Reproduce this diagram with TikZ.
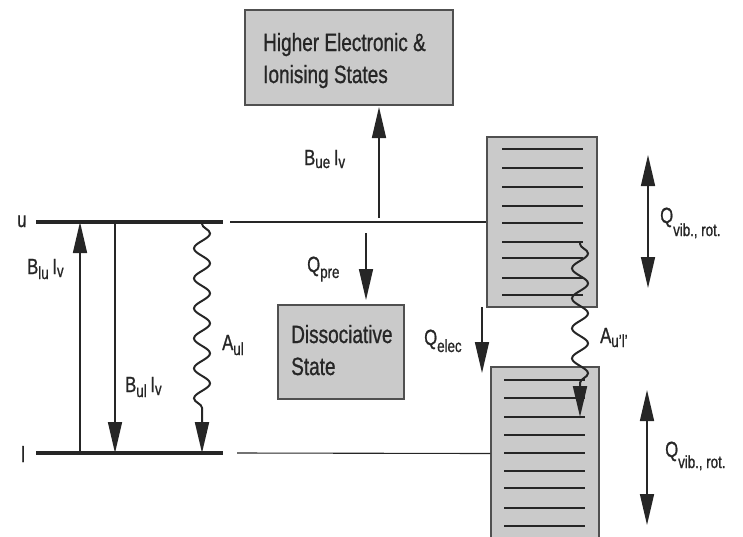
\documentclass[tikz,border=0pt]{standalone}
\usepackage{fontspec}
\setmainfont{Liberation Sans}[FakeStretch=0.76,FakeBold=0.9]
\usetikzlibrary{arrows.meta,decorations.pathmorphing}
\definecolor{ink}{HTML}{262626}
\definecolor{boxfill}{HTML}{CACACA}
\definecolor{boxline}{HTML}{505050}
\newcommand\labfont{\fontsize{22}{24}\selectfont}
\newcommand\subfont{\fontsize{17.5}{18}\selectfont}
\newcommand\boxfont{\fontsize{25}{32}\selectfont}
\newcommand\lsub[2][5pt]{\raisebox{-#1}{\subfont #2}}
\begin{document}
\begin{tikzpicture}[x=1pt,y=-1pt,
  lab/.style={anchor=base west,inner sep=0pt,font=\labfont,text=ink},
  statebox/.style={draw=boxline,fill=boxfill,line width=1.3pt,inner sep=0pt},
  boxtext/.style={anchor=base west,inner sep=0pt,font=\boxfont,text=ink,align=left},
  level/.style={draw=ink,line width=3.5pt},
  thinline/.style={draw=ink,line width=1.1pt},
  stripe/.style={draw=ink,line width=2.4pt},
  arr/.style={draw=ink,line width=1.6pt,-{Triangle[length=31pt,width=14pt]}},
  darr/.style={draw=ink,line width=1.6pt,{Triangle[length=31pt,width=14pt]}-{Triangle[length=31pt,width=14pt]}},
  wave/.style={draw=ink,line width=2pt,-{Triangle[length=31pt,width=14pt]},
    decorate,decoration={snake,amplitude=8pt,segment length=30pt,pre length=2pt,post length=32pt}}]
\useasboundingbox (0,0) rectangle (743,536);
% boxes
\node[statebox,minimum width=208pt,minimum height=95pt] (top) at (349,57.5) {};
\node[boxtext] (toptext) at (263,51) {Higher Electronic \&};
\node[boxtext] (toptext2) at (263,83) {Ionising States};
\node[statebox,minimum width=126pt,minimum height=94pt] (ds) at (341,352) {};
\node[boxtext] (dstext) at (291,343) {Dissociative};
\node[boxtext] (dstext2) at (291,375) {State};
\node[statebox,minimum width=110pt,minimum height=170pt] (ur) at (542,222) {};
\node[statebox,minimum width=108pt,minimum height=173pt] (lr) at (545,453.5) {};
% stripes
\foreach \y [count=\i] in {149,168,187,206,223,242,258,278,295}
  {\coordinate (ua\i) at (502,\y); \coordinate (ub\i) at (583,\y); \draw[stripe] (ua\i) -- (ub\i);}
\foreach \y [count=\i] in {380,398,417,435,453,471,488,508,526}
  {\coordinate (la\i) at (504,\y); \coordinate (lb\i) at (585,\y); \draw[stripe] (la\i) -- (lb\i);}
% levels
\coordinate (uL) at (36,222); \coordinate (uR) at (223,222);
\coordinate (lL) at (36,453); \coordinate (lR) at (223,453);
\draw[level] (uL) -- (uR);
\draw[level] (lL) -- (lR);
\coordinate (uT) at (230,222);
\coordinate (lT) at (237,453);
\draw[thinline] (uT) -- (ur.west);
\draw[thinline] (lT) -- (lr.west);
% left transitions
\coordinate (blu0) at (80,453); \coordinate (blu1) at (80,222);
\draw[arr] (blu0) -- (blu1);
\coordinate (bul0) at (115,222); \coordinate (bul1) at (115,453);
\draw[arr] (bul0) -- (bul1);
\coordinate (aul0) at (202,222); \coordinate (aul1) at (202,453);
\draw[wave] (aul0) -- (aul1);
% middle transitions
\coordinate (bue0) at (379,218); \coordinate (bue1) at (379,107);
\draw[arr] (bue0) -- (bue1);
\coordinate (qp0) at (366,233); \coordinate (qp1) at (366,300);
\draw[arr] (qp0) -- (qp1);
\coordinate (qe0) at (482,307); \coordinate (qe1) at (482,373);
\draw[arr] (qe0) -- (qe1);
% right transitions
\coordinate (aulp0) at (580,242); \coordinate (aulp1) at (580,417);
\draw[wave] (aulp0) -- (aulp1);
\coordinate (qv0) at (648,155); \coordinate (qv1) at (648,288);
\draw[darr] (qv0) -- (qv1);
\coordinate (qw0) at (647,390); \coordinate (qw1) at (647,525);
\draw[darr] (qw0) -- (qw1);
% labels
\node[lab] (lu) at (17,227) {u};
\node[lab] (ll) at (21,462) {l};
\node[lab] (Lblu) at (27,274) {B\lsub{lu}\,I\lsub[3pt]{v}};
\node[lab] (Lbul) at (125,392) {B\lsub{ul}\,I\lsub[3pt]{v}};
\node[lab] (Laul) at (222,350) {A\lsub{ul}};
\node[lab] (Lbue) at (304,165) {B\lsub[3pt]{ue}\,I\lsub[3pt]{v}};
\node[lab] (Lqp) at (307,272) {Q\lsub[6pt]{pre}};
\node[lab] (Lqe) at (424,345) {Q\lsub[7pt]{elec}};
\node[lab] (Laup) at (600,343) {A\lsub[4pt]{u'l'}};
\node[lab] (Lqv) at (660,223) {Q\lsub[13pt]{vib., rot.}};
\node[lab] (Lqw) at (665,457) {Q\lsub[11pt]{vib., rot.}};
\end{tikzpicture}
\end{document}
